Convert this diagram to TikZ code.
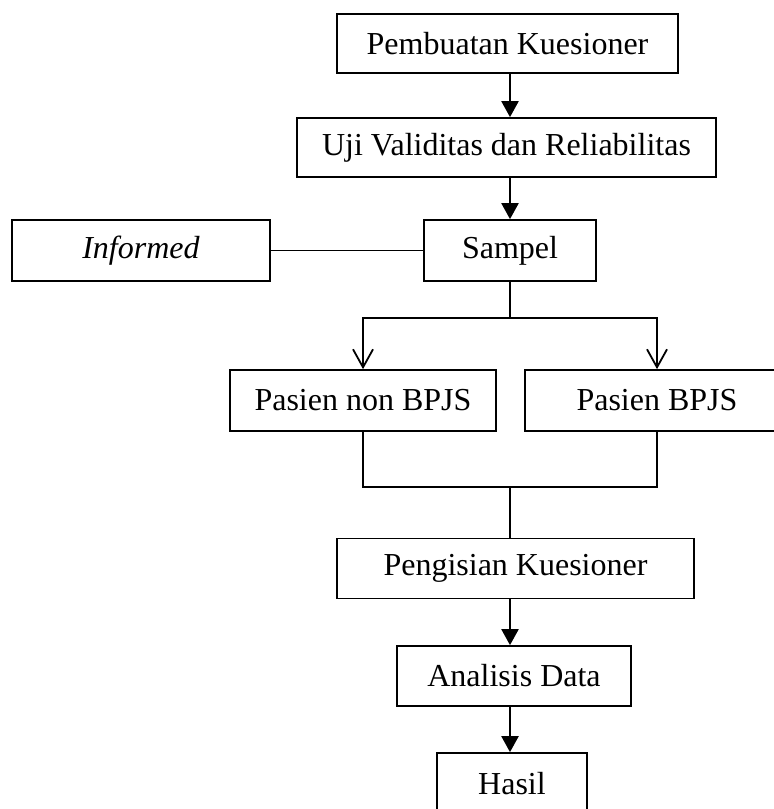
\documentclass[tikz,border=0pt]{standalone}
\usepackage{fontspec}
\setmainfont{Liberation Serif}
\usetikzlibrary{arrows.meta}

\begin{document}
\begin{tikzpicture}[
    % Unidade: 1 pixel da figura original
    x=0.5pt, y=-0.5pt,
    caixa/.style={draw, line width=0.85pt, inner sep=0pt,
        font=\fontsize{16}{19}\selectfont},
    seta/.style={line width=1.1pt, -{Triangle[length=8pt, width=8.5pt]}},
    farpa/.style={line width=0.9pt, -{Straight Barb[length=9pt, width=10pt]}},
    liga/.style={line width=0.85pt}
]

    % Limites da figura
    \useasboundingbox (0,0) rectangle (774,809);
    \clip (0,0) rectangle (774,809);

    % ==========================================
    % 1. CAIXAS
    % ==========================================
    \node[caixa, minimum width=170.5pt, minimum height=29.5pt] (buat) at (507.5,43.5) {Pembuatan Kuesioner};
    \node[caixa, minimum width=209.5pt, minimum height=29.5pt] (uji) at (506.5,147.5) {Uji Validitas dan Reliabilitas};
    \node[caixa, minimum width=86pt, minimum height=30.5pt] (sampel) at (510,250.5) {Sampel};
    \node[caixa, minimum width=129pt, minimum height=30.5pt] (informed) at (141,250.5) {\textit{Informed}};
    \node[caixa, minimum width=133pt, minimum height=30.5pt] (nonbpjs) at (363,400.5) {Pasien non BPJS};
    \node[caixa, minimum width=132pt, minimum height=30.5pt] (bpjs) at (657,400.5) {Pasien BPJS};
    \node[caixa, minimum width=178.5pt, minimum height=30pt] (isi) at (515.5,568.5) {Pengisian Kuesioner};
    \node[caixa, minimum width=117pt, minimum height=30pt] (analisis) at (514,676) {Analisis Data};
    \node[caixa, minimum width=75pt, minimum height=30.5pt] (hasil) at (512,783.5) {Hasil};

    % Pontos de ramificação
    \coordinate (cabang) at (510,318); % divisão para os pacientes
    \coordinate (gabung) at (510,487); % junção dos pacientes

    % ==========================================
    % 2. LIGAÇÕES
    % ==========================================
    \draw[seta] (buat.south -| sampel) -- (uji.north -| sampel);
    \draw[seta] (uji.south -| sampel) -- (sampel.north);
    \draw[liga] (informed.east) -- (sampel.west);

    \draw[liga] (sampel.south) -- (cabang);
    \draw[farpa] (cabang) -| (nonbpjs.north);
    \draw[farpa] (cabang) -| (bpjs.north);

    \draw[liga] (nonbpjs.south) |- (gabung) -| (bpjs.south);
    \draw[liga] (gabung) -- (gabung |- isi.north);

    \draw[seta] (isi.south -| gabung) -- (analisis.north -| gabung);
    \draw[seta] (analisis.south -| gabung) -- (hasil.north -| gabung);

\end{tikzpicture}
\end{document}
